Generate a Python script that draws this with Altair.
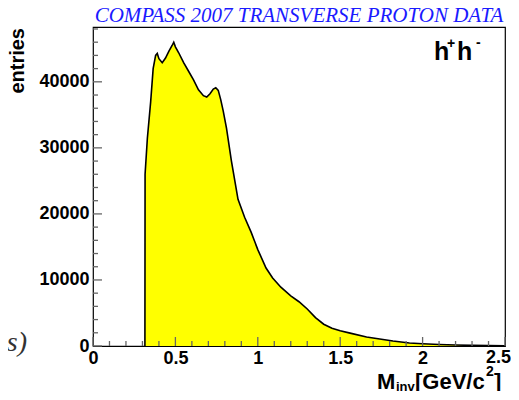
import altair as alt
import pandas as pd

# Histogram (invariant mass vs entries)
mass = [0.315, 0.316, 0.33, 0.35, 0.365, 0.38, 0.39, 0.40, 0.42, 0.44, 0.46, 0.48, 0.49, 0.50,
        0.52, 0.55, 0.58, 0.61, 0.64, 0.67, 0.69, 0.71, 0.73, 0.745, 0.76, 0.775, 0.79, 0.81,
        0.84, 0.88, 0.92, 0.96, 1.00, 1.05, 1.09, 1.14, 1.20, 1.25, 1.30, 1.35, 1.40, 1.45,
        1.50, 1.56, 1.66, 1.74, 1.82, 1.92, 2.00, 2.10, 2.20, 2.30, 2.40, 2.50]
entries = [0, 26000, 31500, 37000, 42000, 44000, 44300, 43500, 42900, 43600, 44600, 45500, 46000, 45300,
           44400, 42900, 41600, 40300, 38800, 37900, 37700, 38200, 38900, 39100, 38700, 37300, 35600, 33000,
           28000, 22200, 19500, 17200, 14600, 11800, 10300, 8900, 7600, 6700, 5600, 4300, 3300, 2700,
           2300, 1950, 1350, 1050, 750, 450, 350, 230, 150, 100, 60, 30]

x_major = [0, 0.5, 1.0, 1.5, 2.0, 2.5]
x_minor = [0.1, 0.2, 0.3, 0.4, 0.6, 0.7, 0.8, 0.9, 1.1, 1.2, 1.3, 1.4, 1.6, 1.7, 1.8, 1.9,
           2.1, 2.2, 2.3, 2.4]
y_major = [0, 10000, 20000, 30000, 40000]
y_minor = [2000, 4000, 6000, 8000, 12000, 14000, 16000, 18000, 22000, 24000, 26000, 28000,
           32000, 34000, 36000, 38000, 42000, 44000, 46000, 48000]
x_label_vals = [0, 0.5, 1.0, 1.5, 2.0]

W, H = 412, 319
FONT = "Liberation Sans"
TICK = "#666666"

xs = alt.Scale(domain=[0, 2.5], nice=False, zero=False)
ys = alt.Scale(domain=[0, 48300], nice=False)

df = pd.DataFrame({"m": mass, "n": entries})

x_axis = alt.Axis(values=x_label_vals, format="~g", domain=False, ticks=False, grid=False,
                  labelPadding=3, labelFontSize=18, labelFlush=False, labelOverlap=False,
                  labelFont=FONT, labelFontWeight="bold", labelColor="black", title=None)
y_axis = alt.Axis(values=y_major, format="d", domain=False, ticks=False, grid=False,
                  labelPadding=4, labelFontSize=18, labelFlush=False, labelOverlap=False,
                  labelFont=FONT, labelFontWeight="bold", labelColor="black", title=None)

area = alt.Chart(df).mark_area(fill="#ffff00", opacity=1).encode(
    x=alt.X("m:Q", scale=xs, axis=x_axis), y=alt.Y("n:Q", scale=ys, axis=y_axis))
outline = alt.Chart(df).mark_line(color="black", strokeWidth=1.6).encode(
    x=alt.X("m:Q", scale=xs), y=alt.Y("n:Q", scale=ys))


def xticks(vals, px_len):
    return alt.Chart(alt.Data(values=[{"v": v} for v in vals])).mark_rule(
        color=TICK, strokeWidth=1.3).encode(
        x=alt.X("v:Q", scale=xs), y=alt.value(H), y2=alt.value(H - px_len))


def yticks(vals, px_len):
    return alt.Chart(alt.Data(values=[{"w": v} for v in vals])).mark_rule(
        color=TICK, strokeWidth=1.3).encode(
        y=alt.Y("w:Q", scale=ys), x=alt.value(0), x2=alt.value(px_len))


def txt(s, px, py, size, **kw):
    return alt.Chart(alt.Data(values=[{"t": s}])).mark_text(fontSize=size, **kw).encode(
        x=alt.value(px - 93), y=alt.value(py - 27), text="t:N")


title = txt("COMPASS 2007 TRANSVERSE PROTON DATA", 299, 22, 21, font="Liberation Serif",
            fontStyle="italic", color="#1a1aff", align="center", baseline="alphabetic")
ylab = alt.Chart(alt.Data(values=[{"t": "entries"}])).mark_text(
    fontSize=20, font=FONT, fontWeight="bold", color="black", angle=270,
    align="right", baseline="alphabetic").encode(
    x=alt.value(24 - 93), y=alt.value(28 - 27), text="t:N")

bold = dict(font=FONT, fontWeight="bold", color="black", align="left", baseline="alphabetic")
xl_last = txt("2.5", 511, 363, 18, font=FONT, fontWeight="bold", color="black", align="right",
              baseline="alphabetic")
xl_M = txt("M", 377, 389, 22, **bold)
xl_inv = txt("inv", 396, 391, 13, **bold)
xl_gev = txt("[GeV/c", 415, 389, 22, **bold)
xl_2 = txt("2", 486, 376, 14, **bold)
xl_br = txt("]", 494, 389, 22, **bold)

h1 = txt("h", 434, 60, 25, **bold)
hp = txt("+", 447, 48, 14, **bold)
h2 = txt("h", 457, 60, 25, **bold)
hm = txt("-", 476, 47, 14, **bold)

stray = txt("s)", 27, 351, 28, font="Liberation Serif", fontStyle="italic", color="#333333",
            align="right", baseline="alphabetic")

chart = alt.layer(
    area, outline,
    xticks(x_major, 9), xticks(x_minor, 5),
    yticks(y_major, 9), yticks(y_minor, 5),
    title, ylab, xl_last, xl_M, xl_inv, xl_gev, xl_2, xl_br, h1, hp, h2, hm, stray,
).properties(
    width=W, height=H,
    autosize=alt.AutoSizeParams(type="none"),
    padding={"left": 85, "top": 19, "right": 6, "bottom": 45},
    background="white",
).configure_view(stroke="black", strokeWidth=1.2)

chart.save("out.html", embed_options={"renderer": "svg", "actions": False})
